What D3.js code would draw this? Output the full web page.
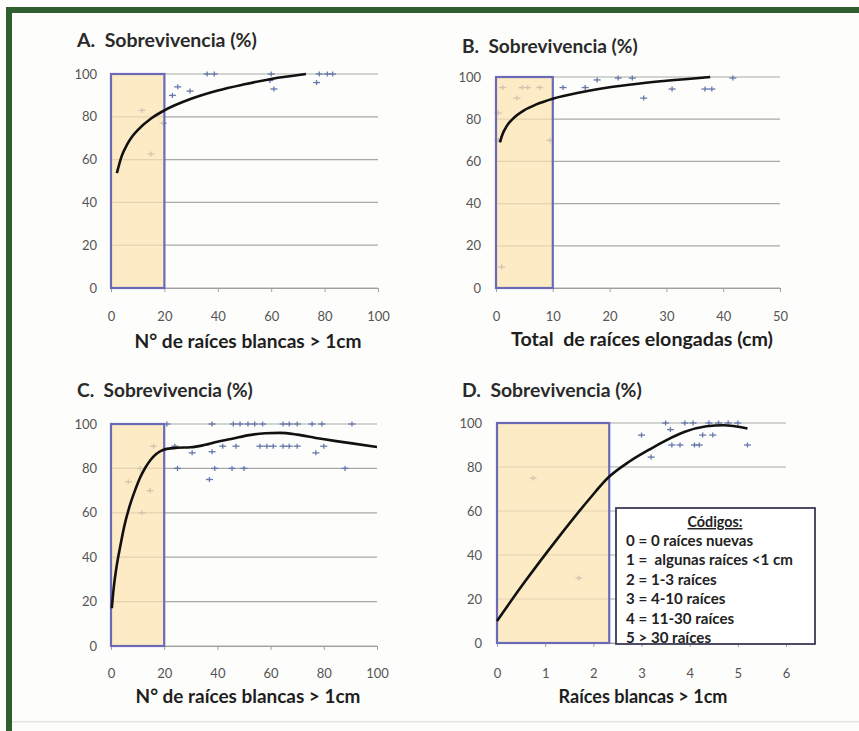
<!DOCTYPE html>
<html><head><meta charset="utf-8">
<script src="https://cdn.jsdelivr.net/npm/d3@7"></script>
<style>
body{margin:0;background:#fff;}
svg{display:block;}
text{font-family:Lato, "Open Sans", sans-serif; white-space:pre;}
</style></head>
<body>
<svg id="chart" width="859" height="731"></svg>
<script>
// ---------- DATA ----------
const yTicks = [0, 20, 40, 60, 80, 100];
const xTicksA = [0, 20, 40, 60, 80, 100];
const xTicksB = [0, 10, 20, 30, 40, 50];
const xTicksC = [0, 20, 40, 60, 80, 100];
const xTicksD = [0, 1, 2, 3, 4, 5, 6];

const titles = ["A.  Sobrevivencia (%)", "B.  Sobrevivencia (%)", "C.  Sobrevivencia (%)", "D.  Sobrevivencia (%)"];
const xLabels = ["N° de raíces blancas > 1cm", "Total  de raíces elongadas (cm)", "N° de raíces blancas > 1cm", "Raíces blancas > 1cm"];

// highlighted ranges on x (from 0 to value)
const boxEnd = [20, 10, 20, 2.33];

// scatter points [x, y]
const pointsA = [[11.6,83],[15,62.6],[19.5,77],[23,90],[25,94],[29.6,92],[36,100],[38.7,100],[59.5,97],[60,100],[61,93],[77,96],[78,100],[81,100],[83,100]];
const pointsB = [[0.4,83],[0.4,70],[1,10],[1.2,95],[3.7,90],[4.6,95],[5.6,95],[7.7,95],[9.5,70],[11.8,95],[15.7,95],[17.8,98.6],[21.5,99.5],[24,99.5],[26,90],[31,94.3],[36.8,94.3],[38,94.3],[41.7,99.5]];
const pointsC = [[6.5,74],[11,80],[11.6,60],[14.7,70],[16,90],[21,100],[24,90],[25,80],[30.5,87],[37,75],[38,87.5],[38,100],[39,80],[42,90],[45.5,80],[46,100],[47,90],[48.5,100],[50,80],[51.5,100],[54,100],[56,90],[57,100],[58.6,90],[61,90],[64.7,100],[64.7,90],[67,100],[67,90],[70,100],[70,90],[75.6,100],[77,87],[79.3,100],[80,90],[88,80],[90.6,100]];
const pointsD = [[0.75,75],[1.7,29.5],[3.0,94.5],[3.2,84.5],[3.5,100],[3.6,97],[3.63,90],[3.8,90],[3.9,100],[4.07,100],[4.1,90],[4.2,90],[4.27,94.5],[4.4,100],[4.48,94.5],[4.6,100],[4.8,100],[5.0,100],[5.2,90]];

// trend curves [x, y]
const curveA = [[2.2,53.7],[4,61.6],[6,67],[8,70.9],[10,73.8],[15,79.2],[20,83],[30,88.4],[40,92.3],[50,95.2],[60,97.7],[73,100]];
const curveB = [[0.7,69],[1,71.8],[2,77.2],[3,80.3],[5,84.3],[7,86.9],[10,89.7],[15,92.8],[20,95.1],[25,96.8],[30,98.2],[37.7,100]];
const curveC = [[0.3,17],[1,26],[2,35],[3.5,45],[5,54],[7,63],[9,70],[11,76],[13,80.5],[15,84],[17,86.5],[19,88],[21,88.8],[25,89.3],[30,89.5],[35,90.5],[40,92],[46,93.5],[52,95],[58,95.8],[63.5,96],[70,95.2],[77,93.7],[84,92.4],[90,91.4],[100,89.6]];
const curveD = [[0,10],[0.55,27],[1.24,47],[1.9,65],[2.3,75],[2.75,82.5],[3.17,88],[3.5,92],[3.9,96],[4.35,98.5],[4.7,99],[5.2,97.5]];

const legendTitle = "Códigos:";
const legendLines = ["0 = 0 raíces nuevas", "1 =  algunas raíces <1 cm", "2 = 1-3 raíces", "3 = 4-10 raíces", "4 = 11-30 raíces", "5 > 30 raíces"];

// ---------- LAYOUT ----------
const svg = d3.select("#chart");

function fitWidth(sel, target) {
  const node = sel.node();
  const fs = parseFloat(sel.attr("font-size"));
  const w = node.getComputedTextLength();
  if (w > 0) sel.attr("font-size", (fs * target / w).toFixed(2));
}

// frame
svg.append("rect").attr("x",0).attr("y",0).attr("width",859).attr("height",731).attr("fill","#fdfdfb");
svg.append("rect").attr("x",7).attr("y",7).attr("width",852).attr("height",6).attr("fill","#2f5f2c");
svg.append("rect").attr("x",6).attr("y",7).attr("width",6).attr("height",724).attr("fill","#2f5f2c");
svg.append("rect").attr("x",12).attr("y",721).attr("width",847).attr("height",1.5).attr("fill","#dfe8dc");

const panels = [
  {xd:[0,100], xr:[111,378], yr:[288,74], xt:xTicksA, pts:pointsA, cur:curveA, title:titles[0], tx:77, ty:47, tw:180, xl:xLabels[0], xlx:248, xly:348, xlw:227, tly:321, ylx:97, box:boxEnd[0]},
  {xd:[0,50], xr:[496,780], yr:[288,77], xt:xTicksB, pts:pointsB, cur:curveB, title:titles[1], tx:462, ty:53, tw:176, xl:xLabels[1], xlx:642, xly:346, xlw:262, tly:321, ylx:481, box:boxEnd[1]},
  {xd:[0,100], xr:[111,377], yr:[646,424], xt:xTicksC, pts:pointsC, cur:curveC, title:titles[2], tx:77, ty:397, tw:176, xl:xLabels[2], xlx:248, xly:703, xlw:225, tly:678, ylx:97, box:boxEnd[2]},
  {xd:[0,6], xr:[497,786], yr:[643,423], xt:xTicksD, pts:pointsD, cur:curveD, title:titles[3], tx:462, ty:397, tw:180, xl:xLabels[3], xlx:643, xly:703, xlw:169, tly:678, ylx:482, box:boxEnd[3]}
];

panels.forEach((p, i) => {
  const x = d3.scaleLinear().domain(p.xd).range(p.xr);
  const y = d3.scaleLinear().domain([0,100]).range(p.yr);
  const g = svg.append("g");

  // gridlines
  g.selectAll(".grid").data(yTicks).join("line")
    .attr("x1", p.xr[0]).attr("x2", p.xr[1])
    .attr("y1", d => y(d)).attr("y2", d => y(d))
    .attr("stroke", "#a9a9a9").attr("stroke-width", 1.2);

  // x axis ticks + labels
  const xAxis = d3.axisBottom(x).tickValues(p.xt).tickSize(4).tickSizeOuter(0).tickFormat(d3.format("d"));
  const ax = g.append("g").attr("transform", `translate(0,${y(0)})`).call(xAxis);
  ax.select(".domain").attr("stroke", "#a0a0a0").attr("stroke-width", 1.2);
  ax.selectAll(".tick line").attr("stroke", "#a0a0a0");
  ax.selectAll(".tick text").attr("y", p.tly - y(0)).attr("dy", 0)
    .attr("font-size", 13).attr("fill", "#555").style("font-family", "Lato, sans-serif");

  // y axis labels
  const yAxis = d3.axisLeft(y).tickValues(yTicks).tickSize(0).tickFormat(d3.format("d"));
  const ay = g.append("g").attr("transform", `translate(${p.ylx},0)`).call(yAxis);
  ay.select(".domain").remove();
  ay.selectAll(".tick text").attr("x", 0).attr("font-size", 13).attr("fill", "#555").style("font-family", "Lato, sans-serif");

  // points
  const mk = g.selectAll(".pt").data(p.pts).join("g")
    .attr("transform", d => `translate(${x(d[0])},${y(d[1])})`);
  mk.append("line").attr("x1",-3.5).attr("x2",3.5).attr("y1",0).attr("y2",0).attr("stroke","#6676aa").attr("stroke-width",1.3);
  mk.append("line").attr("x1",0).attr("x2",0).attr("y1",-2.5).attr("y2",2.5).attr("stroke","#6676aa").attr("stroke-width",1.3);

  // highlighted box (semi-transparent)
  g.append("rect")
    .attr("x", x(0)).attr("y", y(100))
    .attr("width", x(p.box) - x(0)).attr("height", y(0) - y(100))
    .attr("fill", "#fbe3b0").attr("fill-opacity", 0.72)
    .attr("stroke", "#6a6ab8").attr("stroke-width", 2.2);

  // trend curve
  const line = d3.line().x(d => x(d[0])).y(d => y(d[1])).curve(d3.curveMonotoneX);
  g.append("path").datum(p.cur).attr("d", line)
    .attr("fill", "none").attr("stroke", "#111").attr("stroke-width", 2.6);

  // title
  const t = g.append("text").attr("x", p.tx).attr("y", p.ty).text(p.title)
    .attr("font-size", 15).attr("font-weight", "bold").attr("fill", "#2a2a2a");
  fitWidth(t, p.tw);
  // x label
  const xl = g.append("text").attr("x", p.xlx).attr("y", p.xly).attr("text-anchor", "middle").text(p.xl)
    .attr("font-size", 14).attr("font-weight", "bold").attr("fill", "#1e1e1e");
  fitWidth(xl, p.xlw);

  if (i === 3) {
    const lg = g.append("g");
    lg.append("rect").attr("x", 616).attr("y", 508).attr("width", 199).attr("height", 136)
      .attr("fill", "#fff").attr("stroke", "#3a3a55").attr("stroke-width", 1.8);
    const lt = lg.append("text").attr("x", 715).attr("y", 527).attr("text-anchor", "middle").text(legendTitle)
      .attr("font-size", 11).attr("font-weight", "bold").attr("text-decoration", "underline").attr("fill", "#222");
    fitWidth(lt, 55);
    const lines = lg.selectAll(".ll").data(legendLines).join("text")
      .attr("x", 626).attr("y", (d, j) => 546 + j * 19.4).text(d => d)
      .attr("font-size", 11).attr("font-weight", "bold").attr("fill", "#222");
    // scale all legend lines by the widest one
    const widest = lines.filter((d, j) => j === 1);
    fitWidth(widest, 167);
    lines.attr("font-size", widest.attr("font-size"));
  }
});
</script>
</body></html>
